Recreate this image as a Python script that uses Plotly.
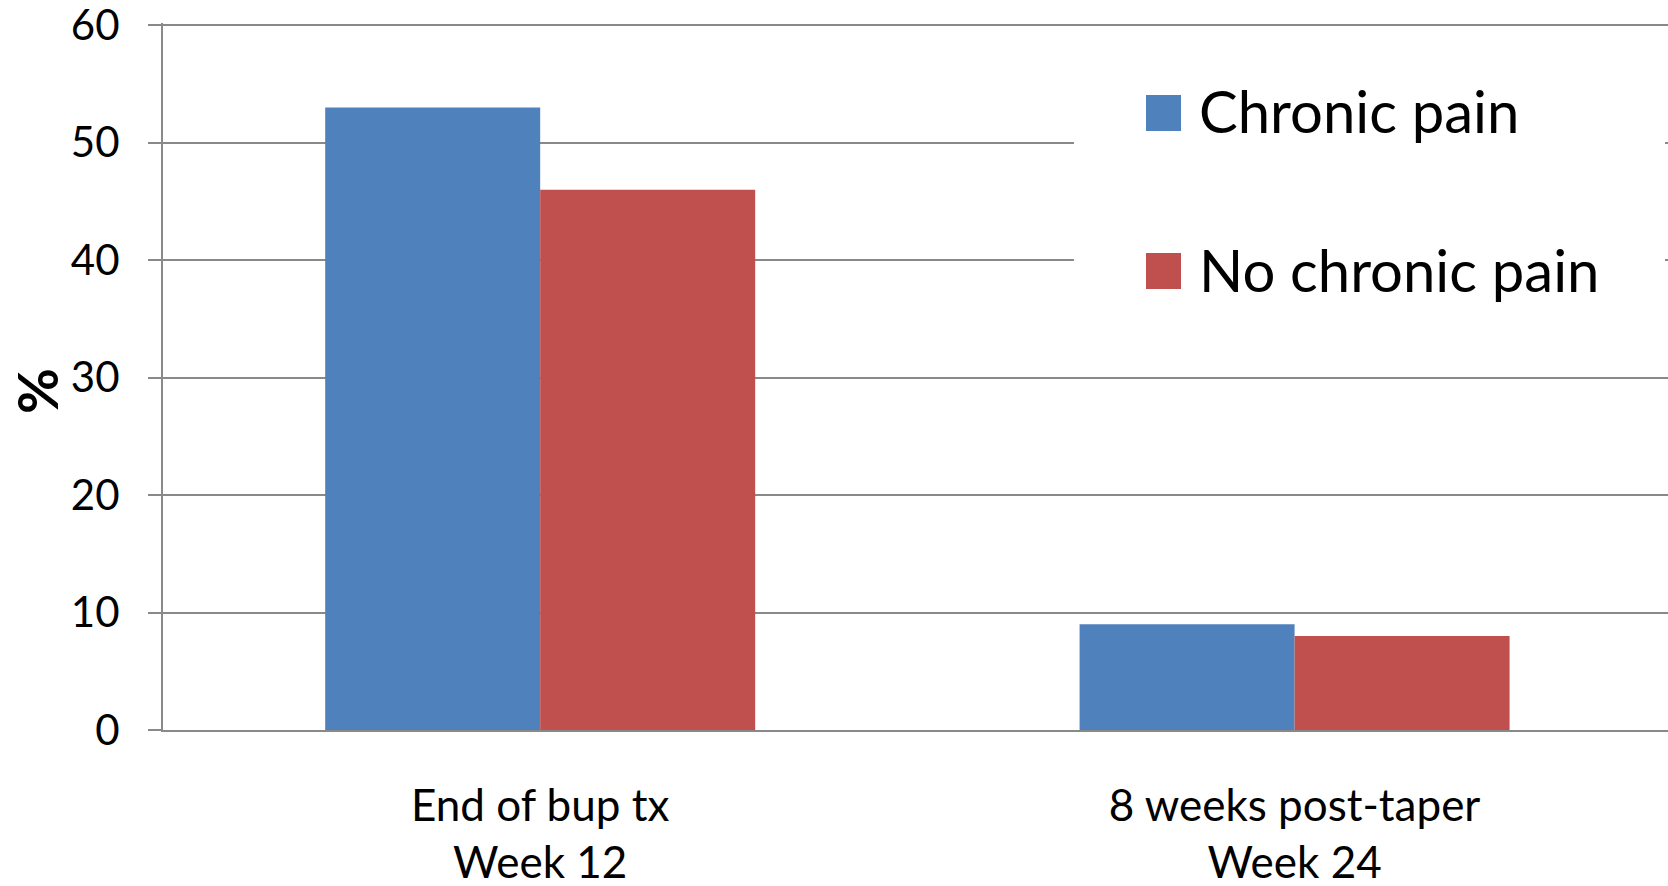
import plotly.graph_objects as go

# Categories (two-line tick labels) and series values (%)
categories = ["End of bup tx<br>Week 12", "8 weeks post-taper<br>Week 24"]
series_names = ["Chronic pain", "No chronic pain"]
chronic_pain = [53, 9]
no_chronic_pain = [46, 8]
series_colors = ["#4F81BD", "#C0504D"]
y_ticks = [0, 10, 20, 30, 40, 50, 60]
y_title = "%"

W, H = 1668, 886
L, R, T, B = 163, 0, 23, 156
GRID = "#898989"
FONT = "Lato, 'Open Sans', sans-serif"

fig = go.Figure()
for name, vals, col in zip(series_names, [chronic_pain, no_chronic_pain], series_colors):
    fig.add_trace(go.Bar(x=categories, y=vals, name=name, marker_color=col,
                         marker_line_width=0, showlegend=False))

pw = W - L - R
ph = H - T - B


def px_x(v):
    return (v - L) / pw


def px_y(v):
    return (H - B - v) / ph


shapes = [
    # white panel behind the key
    dict(type="rect", xref="paper", yref="paper", layer="above",
         x0=px_x(1074), x1=px_x(1665), y0=px_y(330), y1=px_y(62),
         fillcolor="white", line_width=0),
]
annotations = [
    dict(text="<b>%s</b>" % y_title, xref="paper", yref="paper", showarrow=False,
         x=px_x(36), y=px_y(391), xanchor="center", yanchor="middle", textangle=-90,
         font=dict(family=FONT, size=56, color="black")),
]
key_rows = [113, 271]
for name, col, yc in zip(series_names, series_colors, key_rows):
    shapes.append(dict(type="rect", xref="paper", yref="paper", layer="above",
                       x0=px_x(1146), x1=px_x(1181), y0=px_y(yc + 18), y1=px_y(yc - 18),
                       fillcolor=col, line_width=0))
    annotations.append(dict(text=name, xref="paper", yref="paper", showarrow=False,
                            x=px_x(1197), y=px_y(yc - 2), xanchor="left", yanchor="middle",
                            font=dict(family=FONT, size=58, color="black")))

fig.update_layout(
    width=W, height=H,
    margin=dict(l=L, r=R, t=T, b=B, autoexpand=False),
    paper_bgcolor="white", plot_bgcolor="white",
    barmode="group", bargap=0.43, bargroupgap=0,
    font=dict(family=FONT, color="black"),
    shapes=shapes, annotations=annotations,
    xaxis=dict(range=[-0.5, 1.495], showgrid=False, ticks="", showline=True,
               linecolor=GRID, linewidth=2, tickfont=dict(size=44, color="black"),
               ticklabelstandoff=36, automargin=False),
    yaxis=dict(range=[0, 60.2], tickvals=y_ticks, showgrid=True, gridcolor=GRID, gridwidth=2,
               zeroline=False, showline=True, linecolor=GRID, linewidth=2,
               ticks="outside", ticklen=13, tickwidth=2, tickcolor=GRID,
               tickfont=dict(size=42, color="black"), ticklabelstandoff=20,
               ticklabeloverflow="allow", automargin=False),
)

fig.write_html("out.html")
